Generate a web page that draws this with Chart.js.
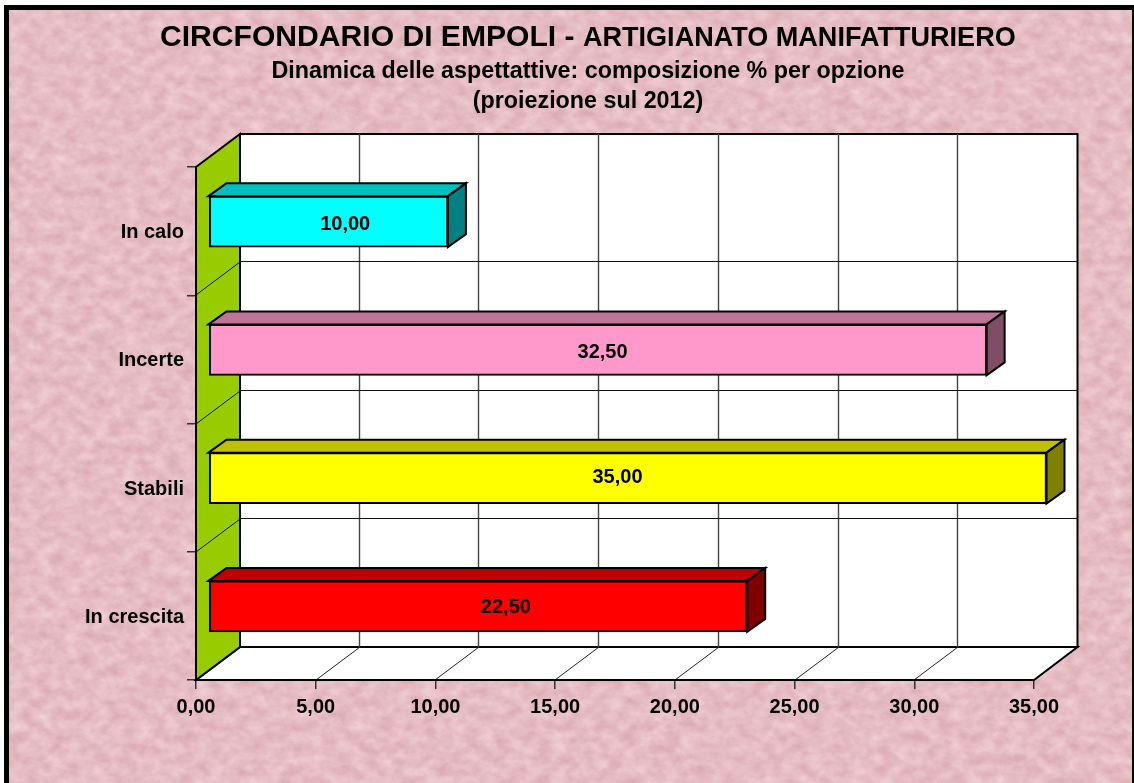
<!DOCTYPE html>
<html><head><meta charset="utf-8">
<script src="https://cdn.jsdelivr.net/npm/chart.js@4"></script>
<style>
html,body{margin:0;padding:0;background:#fff;width:1134px;height:783px;overflow:hidden}
#frame{position:absolute;left:4px;top:5px;width:1123px;height:790px;border:solid #000;border-width:5px 2px 0 5px;overflow:hidden;background:#e6bcc3}
#frame svg{position:absolute;left:0;top:0}
canvas{position:absolute;left:0;top:0}
</style></head><body>
<div id="frame"><svg width="1128" height="790">
<filter id="paper" x="0" y="0" width="100%" height="100%" color-interpolation-filters="sRGB">
<feTurbulence type="fractalNoise" baseFrequency="0.07 0.09" numOctaves="5" seed="7"/>
<feColorMatrix type="matrix" values="0.11 0 0 0 0.845  0.2 0 0 0 0.637  0.18 0 0 0 0.675  0 0 0 0 1"/>
</filter>
<rect width="1128" height="790" filter="url(#paper)"/></svg></div>
<canvas id="c" width="1134" height="783"></canvas>
<script>
const categories = ['In calo', 'Incerte', 'Stabili', 'In crescita'];
const values = [10, 32.5, 35, 22.5];
const faceColors = ['#00FFFF', '#FF99CC', '#FFFF00', '#FF0000'];
const topColors = ['#00BFBF', '#BF7399', '#BFBF00', '#BF0000'];
const sideColors = ['#008080', '#804D66', '#808000', '#800000'];
const titleMain = 'CIRCFONDARIO DI EMPOLI - ';
const titleSecond = 'ARTIGIANATO MANIFATTURIERO';
const subtitleLines = ['Dinamica delle aspettattive: composizione % per opzione', '(proiezione sul 2012)'];
const xMin = 0, xMax = 35, xStep = 5;

const FONT = '"Liberation Sans", Arial, sans-serif';
const fmt = v => v.toFixed(2).replace('.', ',');
const DEPTH = {x: 44, y: 33};        // wall depth
const BAR = {x: 12.5, y: -9.5, dx: 18, dy: 13}; // bar offset and bar depth
const LABEL_SHIFT = [[17, 2.5], [5, 2.5], [-10, -0.5], [28, 1.5]];
const TICK_FONT = {family: FONT, size: 20, weight: 'bold'};

function poly(ctx, pts, fill, lw) {
  ctx.beginPath();
  pts.forEach((p, i) => i ? ctx.lineTo(p[0], p[1]) : ctx.moveTo(p[0], p[1]));
  ctx.closePath();
  if (fill) { ctx.fillStyle = fill; ctx.fill(); }
  if (lw) { ctx.lineWidth = lw; ctx.strokeStyle = '#000'; ctx.lineJoin = 'miter'; ctx.stroke(); }
}
function line(ctx, x1, y1, x2, y2, lw, col) {
  ctx.beginPath(); ctx.moveTo(x1, y1); ctx.lineTo(x2, y2);
  ctx.lineWidth = lw; ctx.strokeStyle = col || '#000'; ctx.stroke();
}

const threeD = {
  id: 'threeD',
  beforeDatasetsDraw(chart) {
    const {ctx, chartArea: a, scales: {x, y}} = chart;
    const dx = DEPTH.x, dy = DEPTH.y;
    ctx.save();
    // back wall and floor
    poly(ctx, [[a.left + dx, a.top - dy], [a.right + dx - .5, a.top - dy], [a.right + dx - .5, a.bottom - dy], [a.left + dx, a.bottom - dy]], '#fff', 2);
    poly(ctx, [[a.left, a.bottom], [a.left + dx, a.bottom - dy], [a.right + dx - .5, a.bottom - dy], [a.right, a.bottom]], '#fff', 2);
    // side wall
    poly(ctx, [[a.left, a.top], [a.left + dx, a.top - dy], [a.left + dx, a.bottom - dy], [a.left, a.bottom]], '#99CC00', 2);
    // vertical grid
    for (let v = xMin + xStep; v < xMax; v += xStep) {
      const px = Math.round(x.getPixelForValue(v));
      line(ctx, px + dx - .5, a.top - dy, px + dx - .5, a.bottom - dy, 1.4, '#444');
      line(ctx, px, a.bottom, px + dx, a.bottom - dy, 1, '#222');
    }
    // horizontal grid, at the category boundaries
    for (let i = 1; i < categories.length; i++) {
      const py = Math.round((y.getPixelForValue(i - 1) + y.getPixelForValue(i)) / 2);
      line(ctx, a.left, py, a.left + dx, py - dy, 1, '#111');
      line(ctx, a.left + dx, py - dy - .5, a.right + dx, py - dy - .5, 1.2, '#111');
    }
    // bar tops and sides
    chart.getDatasetMeta(0).data.forEach((el, i) => {
      const h = el.height / 2, l = x.getPixelForValue(0) + BAR.x, r = el.x + BAR.x;
      const t = el.y + BAR.y - h, b = el.y + BAR.y + h;
      poly(ctx, [[l, t], [l + BAR.dx, t - BAR.dy], [r + BAR.dx, t - BAR.dy], [r, t]], topColors[i], 2);
      poly(ctx, [[r, t], [r + BAR.dx, t - BAR.dy], [r + BAR.dx, b - BAR.dy], [r, b]], sideColors[i], 2);
    });
    ctx.restore();
    ctx.save();
    ctx.translate(BAR.x, BAR.y);
  },
  afterDatasetsDraw(chart) {
    const {ctx, chartArea: a} = chart;
    ctx.restore();
    ctx.save();
    // front axis lines
    line(ctx, a.left, a.top, a.left, a.bottom, 2);
    line(ctx, a.left, a.bottom, a.right, a.bottom, 2);
    // value labels
    ctx.fillStyle = '#000';
    ctx.font = 'bold 20px ' + FONT;
    ctx.textAlign = 'center'; ctx.textBaseline = 'middle';
    chart.getDatasetMeta(0).data.forEach((el, i) => {
      const cx = (chart.scales.x.getPixelForValue(0) + el.x) / 2 + BAR.x + LABEL_SHIFT[i][0];
      ctx.fillText(fmt(values[i]), cx, el.y + BAR.y + LABEL_SHIFT[i][1]);
    });
    // titles
    ctx.textBaseline = 'alphabetic'; ctx.textAlign = 'left';
    ctx.font = 'bold 30.1px ' + FONT;
    ctx.fillText(titleMain, 160, 46);
    const w = ctx.measureText(titleMain).width;
    ctx.font = 'bold 27.05px ' + FONT;
    ctx.fillText(titleSecond, 160 + w, 46);
    ctx.textAlign = 'center';
    ctx.font = 'bold 23.3px ' + FONT;
    ctx.fillText(subtitleLines[0], 588, 78);
    ctx.fillText(subtitleLines[1], 588, 108);
    ctx.restore();
  }
};

new Chart(document.getElementById('c'), {
  type: 'bar',
  data: {
    labels: categories,
    datasets: [{
      data: values,
      backgroundColor: faceColors,
      borderColor: '#000',
      borderWidth: 2,
      borderSkipped: false,
      barThickness: 51,
      clip: false
    }]
  },
  options: {
    indexAxis: 'y',
    responsive: false,
    animation: false,
    layout: {padding: {left: 0, right: 100, top: 167, bottom: 63}},
    plugins: {legend: {display: false}, tooltip: {enabled: false}, title: {display: false}},
    scales: {
      x: {
        min: xMin, max: xMax,
        afterFit: s => { s.height = 40; },
        afterTickToLabelConversion: s => { s.ticks.forEach(t => { t.label = fmt(t.value); }); },
        ticks: {stepSize: xStep, color: '#000', padding: 6, maxRotation: 0, font: TICK_FONT},
        grid: {drawOnChartArea: false, drawTicks: true, tickLength: 9, lineWidth: 1.5, color: '#333', tickColor: '#333'},
        border: {display: false}
      },
      y: {
        afterFit: s => { s.width = 196; },
        ticks: {color: '#000', padding: 3, labelOffset: 1.5, font: TICK_FONT},
        grid: {offset: true, drawOnChartArea: false, drawTicks: true, tickLength: 9, lineWidth: 1.5, color: '#333', tickColor: '#333'},
        border: {display: false}
      }
    }
  },
  plugins: [threeD]
});
</script>
</body></html>
